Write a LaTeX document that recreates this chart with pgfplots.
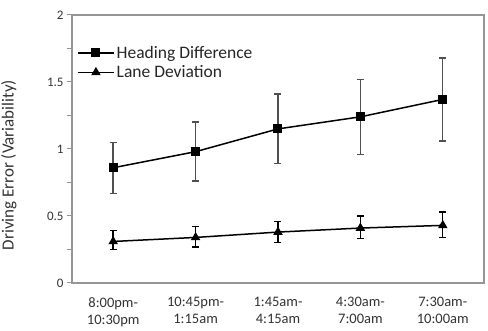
\documentclass[border=0pt]{standalone}
\usepackage{pgfplots}
\pgfplotsset{compat=1.18}
\usepackage{pgfplotstable}
\usepackage{fontspec}
\setmainfont{Carlito}
\pgfplotstableread{
x y ep em
0 0.86 0.19 0.19
1 0.98 0.22 0.22
2 1.15 0.26 0.26
3 1.24 0.28 0.28
4 1.37 0.31 0.31
}\heading
\pgfplotstableread{
x y ep em
0 0.31 0.08 0.06
1 0.34 0.08 0.07
2 0.38 0.08 0.08
3 0.41 0.09 0.08
4 0.43 0.10 0.09
}\lane
\definecolor{axgray}{RGB}{150,150,150}
\definecolor{ebgray}{RGB}{80,80,80}
\begin{document}
\begin{tikzpicture}
\useasboundingbox (-72pt,-48pt) rectangle (416pt,283pt);
\begin{axis}[
  at={(0,0)}, anchor=south west,
  scale only axis, width=412pt, height=268pt,
  xmin=-0.5, xmax=4.5, ymin=0, ymax=2,
  xtick pos=bottom, ytick pos=left,
  xtick={0,1,2,3,4},
  xticklabels={{8:00pm-\\10:30pm},{10:45pm-\\1:15am},{1:45am-\\4:15am},{4:30am-\\7:00am},{7:30am-\\10:00am}},
  xticklabel style={align=center, font=\fontsize{14.5}{17}\selectfont, text=black!80},
  x tick style={draw=none},
  extra x ticks={-0.5,0.5,1.5,2.5,3.5,4.5},
  extra x tick labels={},
  extra x tick style={major tick length=5pt, tick align=outside, tick style={draw=axgray, line width=1pt}},
  ytick={0,0.5,1,1.5,2},
  yticklabels={0,0.5,1,1.5,2},
  minor y tick num=1,
  yticklabel style={font=\fontsize{13}{15}\selectfont, text=black!80},
  tick align=outside,
  major tick length=5pt, minor tick length=5pt,
  y tick style={draw=axgray, line width=1pt},
  axis line style={draw=axgray, line width=1.1pt},
  ylabel={Driving Error (Variability)},
  ylabel style={font=\fontsize{17}{19}\selectfont, text=black!80, at={(axis description cs:-0.153,0.44)}, anchor=center},
  xticklabel shift=6pt,
  legend style={draw=none, fill=none, at={(axis cs:-0.5,1.645)}, anchor=west, xshift=2pt, font=\fontsize{17.5}{19}\selectfont, text=black!85, row sep=2pt},
  legend cell align=left,
  legend image code/.code={\draw[#1, mark repeat=2, mark phase=2] plot coordinates {(0pt,0pt) (18pt,0pt) (36pt,0pt)};},
]
\addplot[black, line width=1.5pt, mark=square*, mark size=4pt, mark options={solid, fill=black, line width=1pt},
  error bars/.cd, y dir=both, y explicit, error bar style={ebgray, line width=1.4pt}, error mark options={rotate=90, mark size=3.5pt, line width=1.4pt, ebgray}]
  table[x=x, y=y, y error plus=ep, y error minus=em]{\heading};
\addlegendentry{Heading Difference}
\addplot[black, line width=1.5pt, mark=triangle*, mark size=4.5pt, mark options={solid, fill=black, line width=1pt},
  error bars/.cd, y dir=both, y explicit, error bar style={black, line width=1.4pt}, error mark options={rotate=90, mark size=3.5pt, line width=1.4pt, black}]
  table[x=x, y=y, y error plus=ep, y error minus=em]{\lane};
\addlegendentry{Lane Deviation}
\end{axis}
\end{tikzpicture}
\end{document}
